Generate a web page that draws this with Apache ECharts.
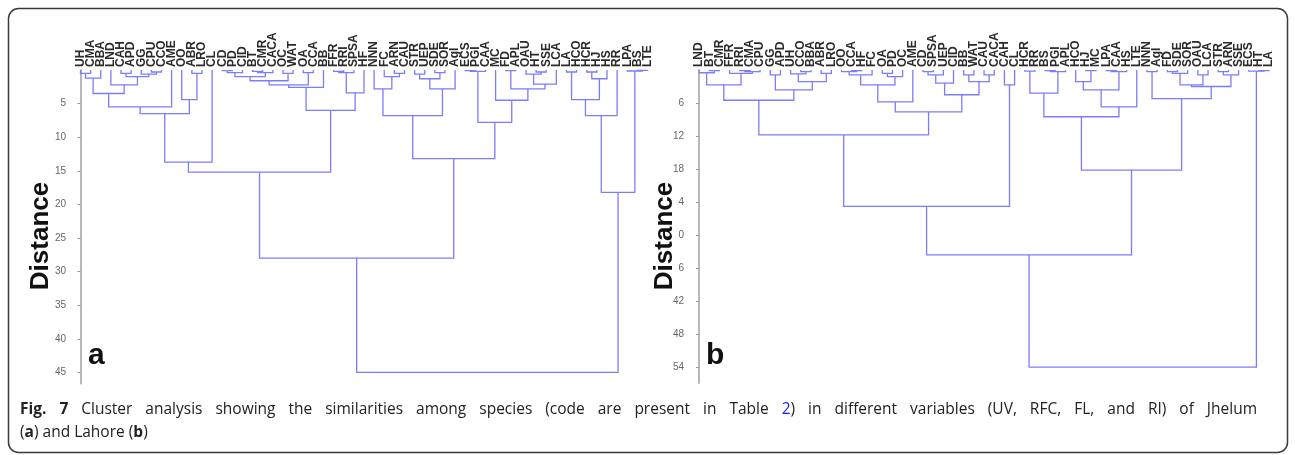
<!DOCTYPE html>
<html><head><meta charset="utf-8">
<script src="https://cdn.jsdelivr.net/npm/echarts@6/dist/echarts.min.js"></script>
<style>html,body{margin:0;padding:0;background:#fff}#c{width:1295px;height:455px}</style>
</head><body><div id="c"></div>
<script>
// ---------- Panel a (Jhelum) ----------
const leavesA = ["UH","CMA","BBA","LND","CAH","APD","GG","CPU","CCO","AME","OO","ABR","LRO","CL","CD","PD","CID","BT","CMR","CACA","OC","WAT","OA","CCA","BB","FFR","RRI","SPSA","HF","NNN","FC","ARN","CAU","STR","UEP","SDE","SOR","AgI","ECS","PGI","CAA","MC","FD","APL","OAU","HT","SSE","LCA","LA","HCO","HCR","HJ","HS","RR","LPA","BS","LTE"];
// each merge: [child, child, distance]; string = leaf, number = earlier merge index
const mergesA = [
 ["UH","CMA",0.5],[0,"BBA",1.2],["CAH","APD",0.5],["CPU","CCO",0.3],["GG",3,0.6],
 [2,4,1.0],["LND",5,2.2],[1,6,3.5],[7,"AME",5.5],["ABR","LRO",0.5],
 ["OO",9,4.4],[8,10,6.5],[11,"CL",13.7],["CD","PD",0.1],[13,"CID",0.4],
 ["BT","CMR",0.2],[15,"CACA",0.4],[14,16,1.0],["OC","WAT",0.5],[17,18,1.6],
 ["OA","CCA",0.4],[19,20,2.2],[21,"BB",2.6],["FFR","RRI",0.2],[23,"SPSA",0.4],
 [24,"HF",3.4],[22,25,6.0],[12,26,15.2],["ARN","CAU",0.5],["FC",28,1.0],
 ["NNN",29,2.8],["STR","UEP",0.6],["SDE","SOR",0.4],[31,32,1.3],[33,"AgI",2.8],
 [30,34,6.8],["ECS","PGI",0.1],[36,"CAA",0.2],["FD","APL",0.1],["HT","SSE",0.3],
 ["OAU",39,0.6],[40,"LCA",2.1],[38,41,2.8],["MC",42,4.5],[37,43,7.8],
 [35,44,13.2],[27,45,28.0],["LA","HCO",0.3],["HCR","HJ",0.3],[48,"HS",1.3],
 [47,49,4.4],[50,"RR",6.8],["BS","LTE",0.05],["LPA",52,0.15],[51,53,18.2],
 [46,54,45.0]
];
const ticksA = [5,10,15,20,25,30,35,40,45];

// ---------- Panel b (Lahore) ----------
const leavesB = ["LND","BT","CMR","FFR","RRI","CMA","CPU","GG","APD","UH","CCO","BBA","ABR","LRO","OO","CCA","HF","FC","OA","PD","OC","AME","CD","SPSA","UEP","CID","BB","WAT","CAU","CACA","CAH","CL","HCR","RR","BS","PGI","APL","HCO","HJ","MC","LPA","CAA","HS","LTE","NNN","AgI","FD","SDE","SOR","OAU","LCA","STR","ARN","SSE","ECS","HT","LA"];
const mergesB = [
 ["BT","CMR",0.1],["LND",0,0.5],["RRI","CMA",0.1],[2,"CPU",0.3],["FFR",3,0.6],
 [1,4,2.7],["GG","APD",0.9],["CCO","BBA",0.3],["UH",7,0.7],["ABR","LRO",0.6],
 [8,9,2.1],[6,10,3.6],[5,11,5.5],["CCA","HF",0.1],["OO",13,0.3],
 [14,"FC",0.9],["OA","PD",0.6],[16,"OC",1.2],[15,17,2.7],[18,"AME",5.8],
 ["CD","SPSA",0.3],[20,"UEP",0.9],[21,"CID",2.4],["BB","WAT",0.9],["CAU","CACA",0.9],
 [23,24,2.1],[22,25,4.5],[19,26,7.6],[12,27,11.8],["CAH","CL",2.7],
 [28,29,24.8],["HCR","RR",0.2],["BS","PGI",0.1],[32,"APL",0.3],[31,33,4.2],
 ["HJ","MC",0.1],["HCO",35,2.1],["LPA","CAA",0.1],[37,"HS",0.3],[36,38,3.6],
 [39,"LTE",6.7],[34,40,8.5],["NNN","AgI",0.3],["FD","SDE",0.3],[43,"SOR",0.6],
 ["OAU","LCA",0.9],[44,45,2.7],["STR","ARN",0.3],[47,"SSE",0.9],[46,48,3.0],
 [42,49,5.2],[41,50,18.2],[30,51,33.6],["HT","LA",0.1],["ECS",53,0.2],
 [52,54,54.0]
];
const ticksB = [6,12,18,24,30,36,42,48,54];

const captionLine1 = 'Fig. 7 Cluster analysis showing the similarities among species (code are present in Table 2) in different variables (UV, RFC, FL, and RI) of Jhelum';
const captionLine2 = '(a) and Lahore (b)';

function buildLinks(leaves, merges) {
  const pos = {};
  leaves.forEach((n, i) => pos[n] = i);
  const nodes = [];
  const links = [];
  const get = r => typeof r === 'number' ? nodes[r] : {x: pos[r], h: 0};
  merges.forEach(m => {
    const a = get(m[0]), b = get(m[1]);
    links.push([a.x, a.h, b.x, b.h, m[2]]);
    nodes.push({x: (a.x + b.x) / 2, h: m[2]});
  });
  return links;
}
const linksA = buildLinks(leavesA, mergesA);
const linksB = buildLinks(leavesB, mergesB);

const LINE = '#7c7cff';
function renderLink(params, api) {
  const a = api.coord([api.value(0), api.value(1)]);
  const b = api.coord([api.value(0), api.value(4)]);
  const c = api.coord([api.value(2), api.value(4)]);
  const d = api.coord([api.value(2), api.value(3)]);
  return {type: 'polyline', shape: {points: [a, b, c, d]},
          style: {stroke: LINE, lineWidth: 1.3, fill: 'none'}};
}
function labelRenderer(leaves) {
  return function (params, api) {
    const p = api.coord([api.value(0), 0]);
    return {type: 'text', x: p[0], y: p[1] - 3, rotation: Math.PI / 2,
      style: {text: leaves[params.dataIndex], align: 'left', verticalAlign: 'middle',
              font: 'bold 12px "Liberation Sans"', fill: '#2a2a2a'}};
  };
}

function xAx(gi, min) {
  return {gridIndex: gi, type: 'value', position: 'top', min: min, max: 57,
    axisLine: {show: false}, axisTick: {show: false}, splitLine: {show: false}, axisLabel: {show: false}};
}
function yAx(gi, ticks, max) {
  return {gridIndex: gi, type: 'value', inverse: true, min: 0, max: max,
    axisLine: {show: true, lineStyle: {color: '#b8b8b8', width: 2}},
    axisTick: {show: true, length: 3, customValues: ticks, lineStyle: {color: '#999'}},
    axisLabel: {customValues: ticks, color: '#666', fontSize: 10, margin: 3, fontFamily: 'Liberation Sans'},
    splitLine: {show: false}};
}

// justified first caption line
const FS = 15.5;
const cv = document.createElement('canvas').getContext('2d');
const words1 = captionLine1.split(' ');
let sumW = 0;
words1.forEach((w, i) => {
  cv.font = (i < 2 ? '700 ' : '400 ') + FS + 'px "Open Sans"';
  sumW += cv.measureText(w).width;
});
const gap = (1237 - sumW) / (words1.length - 1);
const mark1 = words1.map((w, i) => {
  if (i < 2) return '{b|' + w + '}';
  if (w === '2)') return '{l|2})';
  return w;
}).join('{s| }');
const mark2 = captionLine2.replace('(a)', '({b|a})').replace('(b)', '({b|b})');

const chart = echarts.init(document.getElementById('c'), null, {renderer: 'canvas'});
chart.setOption({
  animation: false,
  backgroundColor: '#fff',
  grid: [
    {left: 69, top: 70, width: 588.6, height: 313.5},
    {left: 687, top: 70, width: 592.3, height: 313}
  ],
  xAxis: [xAx(0, -1.135), xAx(1, -1.18)],
  yAxis: [yAx(0, ticksA, 46.65), yAx(1, ticksB, 56.9)],
  series: [
    {type: 'custom', xAxisIndex: 0, yAxisIndex: 0, data: linksA, encode: {x: [0, 2], y: [1, 3, 4]}, renderItem: renderLink, silent: true},
    {type: 'custom', xAxisIndex: 1, yAxisIndex: 1, data: linksB, encode: {x: [0, 2], y: [1, 3, 4]}, renderItem: renderLink, silent: true},
    {type: 'custom', xAxisIndex: 0, yAxisIndex: 0, data: leavesA.map((_, i) => [i, 0]), encode: {x: 0, y: 1},
     renderItem: labelRenderer(leavesA), silent: true, clip: false},
    {type: 'custom', xAxisIndex: 1, yAxisIndex: 1, data: leavesB.map((_, i) => [i, 0]), encode: {x: 0, y: 1},
     renderItem: labelRenderer(leavesB), silent: true, clip: false}
  ],
  graphic: [
    {type: 'rect', z: 1, shape: {x: 8.5, y: 8.5, width: 1279, height: 444, r: 10},
     style: {fill: 'none', stroke: '#3a3a3a', lineWidth: 1.5}},
    {type: 'text', z: 50, x: 41, y: 236, rotation: Math.PI / 2,
     style: {text: 'Distance', font: 'bold 26px "Liberation Sans"', fill: '#111', align: 'center', verticalAlign: 'middle',
       backgroundColor: '#fff', padding: [0, 1, 0, 1]}},
    {type: 'text', z: 50, x: 665, y: 236, rotation: Math.PI / 2,
     style: {text: 'Distance', font: 'bold 26px "Liberation Sans"', fill: '#111', align: 'center', verticalAlign: 'middle',
       backgroundColor: '#fff', padding: [0, 1, 0, 1]}},
    {type: 'text', x: 88, y: 356, style: {text: 'a', font: 'bold 30px "Liberation Sans"', fill: '#111', verticalAlign: 'middle'}},
    {type: 'text', x: 706, y: 356, style: {text: 'b', font: 'bold 30px "Liberation Sans"', fill: '#111', verticalAlign: 'middle'}},
    {type: 'text', x: 20, y: 398, style: {
      text: mark1 + '\n' + mark2,
      font: FS + 'px "Open Sans"', fill: '#222', lineHeight: 23,
      rich: {b: {fontWeight: 'bold', fontSize: FS, fontFamily: 'Open Sans', fill: '#222', lineHeight: 23},
             l: {fill: '#1a1aff', fontSize: FS, fontFamily: 'Open Sans', lineHeight: 23},
             s: {width: gap, fontSize: FS, fontFamily: 'Open Sans', lineHeight: 23}}}}
  ]
});
</script>
</body></html>
